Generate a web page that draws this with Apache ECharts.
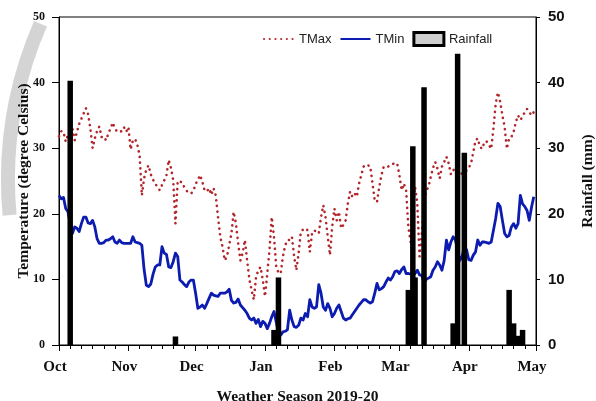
<!DOCTYPE html>
<html>
<head>
<meta charset="utf-8">
<script src="https://cdn.jsdelivr.net/npm/echarts@6/dist/echarts.min.js"></script>
<style>
  html, body { margin: 0; padding: 0; background: #fff; }
  #chart { width: 596px; height: 401px; }
</style>
</head>
<body>
<div id="chart"></div>
<script>
// Daily weather, 1 Oct 2019 – 30 Apr 2020 (day 0 = 1 Oct)
const seasonStart = [2019, 9, 1];
const monthNames = ['Oct', 'Nov', 'Dec', 'Jan', 'Feb', 'Mar', 'Apr', 'May'];
const monthStartDay = [0, 31, 61, 92, 123, 152, 183, 213];
const minorTickDates = [1, 6, 11, 16, 21, 26];
const tempTicks = [0, 10, 20, 30, 40, 50];

// Maximum temperature (°C)
const tmax = [
  31.8, 32.6, 32.5, 31.0, 32.0, 31.5, 33.0, 31.2, 32.5, 33.7,
  34.5, 35.3, 36.1, 35.2, 33.0, 30.0, 31.5, 32.6, 33.3, 31.7,
  31.8, 31.2, 32.2, 33.0, 33.9, 33.0, 32.5, 32.5, 32.6, 33.2,
  32.5, 33.2, 29.8, 31.2, 31.4, 30.5, 28.9, 22.8, 25.4, 26.8,
  27.4, 26.0, 25.2, 24.6, 24.0, 23.6, 24.4, 25.1, 25.9, 28.2,
  27.0, 25.1, 18.5, 25.0, 24.9, 24.8, 24.0, 23.5, 23.2, 23.1,
  23.5, 24.5, 25.2, 25.9, 24.9, 23.6, 23.4, 23.9, 22.9, 23.9,
  22.8, 19.5, 16.5, 15.0, 12.9, 13.5, 15.2, 17.0, 20.3, 18.5,
  15.5, 12.9, 14.0, 16.0, 12.9, 10.0, 8.4, 6.9, 10.4, 11.4,
  11.9, 9.9, 7.4, 10.9, 14.5, 19.5, 16.5, 12.0, 11.0, 10.9,
  13.5, 15.2, 16.0, 16.0, 16.5, 13.5, 11.4, 14.0, 17.3, 17.6,
  17.8, 17.5, 14.2, 17.0, 17.5, 17.2, 17.0, 19.5, 21.3, 19.5,
  16.5, 13.7, 18.0, 20.8, 19.0, 20.3, 17.8, 18.3, 19.0, 21.6,
  23.4, 22.6, 23.1, 22.6, 24.6, 25.9, 27.2, 27.5, 27.4, 27.2,
  24.6, 22.0, 21.8, 24.1, 25.9, 27.2, 27.2, 27.2, 27.4, 27.6,
  27.7, 27.7, 25.9, 23.6, 24.6, 23.6, 18.0, 15.7, 21.0, 24.1,
  21.6, 13.5, 17.0, 21.6, 23.5, 24.1, 25.6, 27.0, 27.9, 26.9,
  25.4, 27.2, 27.9, 28.7, 27.7, 26.0, 26.6, 27.0, 26.5, 26.3,
  26.1, 26.3, 26.6, 27.0, 27.7, 29.4, 31.2, 31.5, 30.2, 29.9,
  31.0, 31.0, 30.5, 29.9, 33.0, 36.8, 38.5, 37.1, 35.0, 33.2,
  29.9, 31.5, 31.7, 32.5, 34.0, 35.0, 34.3, 34.8, 35.5, 36.0,
  35.5, 35.0, 35.5
];

// Minimum temperature (°C)
const tmin = [
  22.8, 22.3, 22.5, 20.8, 20.3, 18.5, 17.0, 18.0, 17.8, 17.3,
  18.5, 19.5, 19.5, 18.6, 18.5, 19.0, 18.0, 16.2, 15.5, 15.5,
  15.6, 16.0, 16.0, 16.2, 16.5, 15.7, 15.5, 16.0, 15.6, 15.5,
  15.5, 15.5, 15.5, 16.5, 15.7, 15.6, 15.5, 15.2, 11.5, 9.1,
  8.9, 9.3, 10.8, 11.9, 12.2, 12.2, 15.0, 14.0, 13.8, 11.9,
  11.8, 12.7, 14.0, 13.5, 9.9, 9.6, 9.2, 8.9, 9.6, 9.9,
  9.9, 7.9, 5.6, 5.8, 6.1, 5.6, 6.3, 7.1, 7.9, 7.6,
  7.5, 7.4, 7.9, 7.9, 7.9, 8.1, 8.5, 6.8, 6.4, 6.5,
  7.0, 6.1, 5.7, 5.3, 4.8, 4.1, 3.8, 4.1, 3.3, 3.9,
  2.8, 3.6, 3.3, 2.5, 3.3, 4.3, 5.1, 3.5, 1.8, 1.5,
  2.0, 2.1, 2.3, 5.3, 3.8, 2.8, 2.7, 3.0, 4.1, 3.8,
  4.8, 4.3, 6.9, 5.8, 5.6, 5.8, 9.2, 7.9, 5.8, 5.3,
  6.3, 5.6, 4.3, 4.8, 5.6, 6.1, 5.1, 4.1, 3.8, 4.0,
  4.1, 4.6, 5.1, 5.6, 6.1, 6.5, 6.9, 6.9, 6.6, 6.4,
  6.6, 7.9, 9.4, 8.4, 8.6, 8.9, 9.6, 10.2, 9.9, 10.4,
  11.2, 11.3, 10.9, 11.5, 11.9, 10.9, 10.9, 10.8, 10.7, 10.9,
  11.4, 10.7, 10.6, 9.4, 10.0, 10.2, 10.4, 11.4, 11.9, 12.7,
  12.2, 11.4, 12.9, 16.0, 14.5, 15.7, 16.5, 16.0, 14.5, 12.9,
  13.5, 15.0, 14.5, 13.0, 12.9, 13.7, 14.2, 16.0, 15.2, 15.7,
  15.7, 15.6, 15.5, 15.7, 17.5, 19.3, 21.6, 21.1, 19.0, 17.0,
  16.5, 16.7, 18.0, 18.5, 17.8, 18.5, 22.8, 21.5, 21.1, 20.5,
  19.0, 21.0, 22.6
];

// Rain days (day index) and amount (mm)
const rainDay = [5, 52, 96, 98, 156, 158, 159, 163, 176, 178, 181, 201, 203, 205, 207];
const rainMm  = [40.3, 1.3, 2.3, 10.3, 8.4, 30.3, 10.3, 39.3, 3.3, 44.4, 29.3, 8.4, 3.3, 1.4, 2.3];

// One category per day, through 1 May
const totalDays = monthStartDay[monthStartDay.length - 1];
const dayDates = [];
const dayCats = [];
for (let i = 0; i <= totalDays; i++) {
  const d = new Date(seasonStart[0], seasonStart[1], seasonStart[2] + i);
  dayDates.push(d);
  dayCats.push(String(i));
}
const rainSeries = dayCats.map(() => null);
rainDay.forEach((d, k) => { rainSeries[d] = rainMm[k]; });

const isMonthStart = (i) => monthStartDay.indexOf(i) >= 0;
const isMinorTick = (i) => minorTickDates.indexOf(dayDates[i].getDate()) >= 0;

const serif = "'Liberation Serif', 'Times New Roman', serif";
const sans = "'Liberation Sans', Arial, sans-serif";

const chart = echarts.init(document.getElementById('chart'), null, { renderer: 'canvas' });

chart.setOption({
  animation: false,
  backgroundColor: '#fff',
  // faint grey logo stroke in the left margin
  graphic: [
    {
      type: 'arc', z: -10, silent: true,
      shape: { cx: 400, cy: 180, r: 392, startAngle: Math.PI - 0.09, endAngle: Math.PI + 0.41, clockwise: true },
      style: { stroke: '#d4d4d4', lineWidth: 14, fill: null, lineCap: 'butt' }
    }
  ],
  grid: {
    left: 59, right: 60, top: 17, bottom: 56,
    outerBoundsMode: 'none', containLabel: false,
    show: true, borderColor: '#000', borderWidth: 1, backgroundColor: 'transparent'
  },
  legend: {
    left: 258, top: 26,
    itemWidth: 30, itemHeight: 13, itemGap: 8,
    textStyle: { fontFamily: sans, fontSize: 13, color: '#222' },
    data: [
      { name: 'TMax', itemStyle: { opacity: 0 } },
      { name: 'TMin', itemStyle: { opacity: 0 } },
      { name: 'Rainfall', icon: 'rect',
        itemStyle: { color: '#cfcfcf', borderColor: '#000', borderWidth: 3 } }
    ]
  },
  xAxis: [
    {
      type: 'category', data: dayCats, boundaryGap: false, position: 'bottom',
      name: 'Weather Season 2019-20', nameLocation: 'middle', nameGap: 44, nameMoveOverlap: false,
      nameTextStyle: { fontFamily: serif, fontWeight: 'bold', fontSize: 15.5, color: '#111' },
      axisLine: { lineStyle: { color: '#000', width: 1 } },
      axisTick: { interval: (i) => isMonthStart(i), length: 6, lineStyle: { color: '#000' } },
      axisLabel: {
        interval: (i) => isMonthStart(i),
        formatter: (v) => monthNames[monthStartDay.indexOf(Number(v))] || '',
        fontFamily: serif, fontWeight: 'bold', fontSize: 15, color: '#111',
        margin: 15, padding: [0, 8, 0, 0]
      },
      splitLine: { show: false }
    },
    {
      type: 'category', data: dayCats, boundaryGap: false, position: 'bottom',
      axisLine: { show: false },
      axisTick: { interval: (i) => isMinorTick(i), length: 4, lineStyle: { color: '#000' } },
      axisLabel: { show: false },
      splitLine: { show: false }
    }
  ],
  yAxis: [
    {
      type: 'value', min: tempTicks[0], max: tempTicks[tempTicks.length - 1], interval: 10,
      position: 'left',
      name: 'Temperature (degree Celsius)', nameLocation: 'middle', nameGap: 27, nameRotate: 90,
      nameMoveOverlap: false,
      nameTextStyle: { fontFamily: serif, fontWeight: 'bold', fontSize: 15.5, color: '#111' },
      axisLine: { show: true, lineStyle: { color: '#000', width: 1 } },
      axisTick: { show: true, length: 7, lineStyle: { color: '#000' } },
      axisLabel: { fontFamily: serif, fontWeight: 'bold', fontSize: 12, color: '#111', margin: 14 },
      splitLine: { show: false }
    },
    {
      type: 'value', min: 0, max: 50, interval: 10,
      position: 'right',
      name: 'Rainfall (mm)', nameLocation: 'middle', nameGap: 44, nameRotate: 90,
      nameMoveOverlap: false,
      nameTextStyle: { fontFamily: serif, fontWeight: 'bold', fontSize: 15.5, color: '#111' },
      axisLine: { show: true, lineStyle: { color: '#000', width: 1 } },
      axisTick: { show: true, length: 4, lineStyle: { color: '#000' } },
      axisLabel: { fontFamily: sans, fontWeight: 'bold', fontSize: 15, color: '#111', margin: 12 },
      splitLine: { show: false }
    }
  ],
  series: [
    {
      name: 'TMax', type: 'line', data: tmax, xAxisIndex: 0, yAxisIndex: 0,
      symbol: 'none', showSymbol: false, z: 2,
      lineStyle: { color: '#b3252a', width: 2.6, type: [0.1, 5.6], cap: 'round' },
      itemStyle: { color: '#b3252a' }
    },
    {
      name: 'TMin', type: 'line', data: tmin, xAxisIndex: 0, yAxisIndex: 0,
      symbol: 'none', showSymbol: false, z: 2,
      lineStyle: { color: '#0c1cb0', width: 2.8, join: 'round' },
      itemStyle: { color: '#0c1cb0' }
    },
    {
      name: 'Rainfall', type: 'bar', data: rainSeries, xAxisIndex: 0, yAxisIndex: 1,
      barWidth: 5.5, z: 3,
      itemStyle: { color: '#000' }
    }
  ]
});
</script>
</body>
</html>
